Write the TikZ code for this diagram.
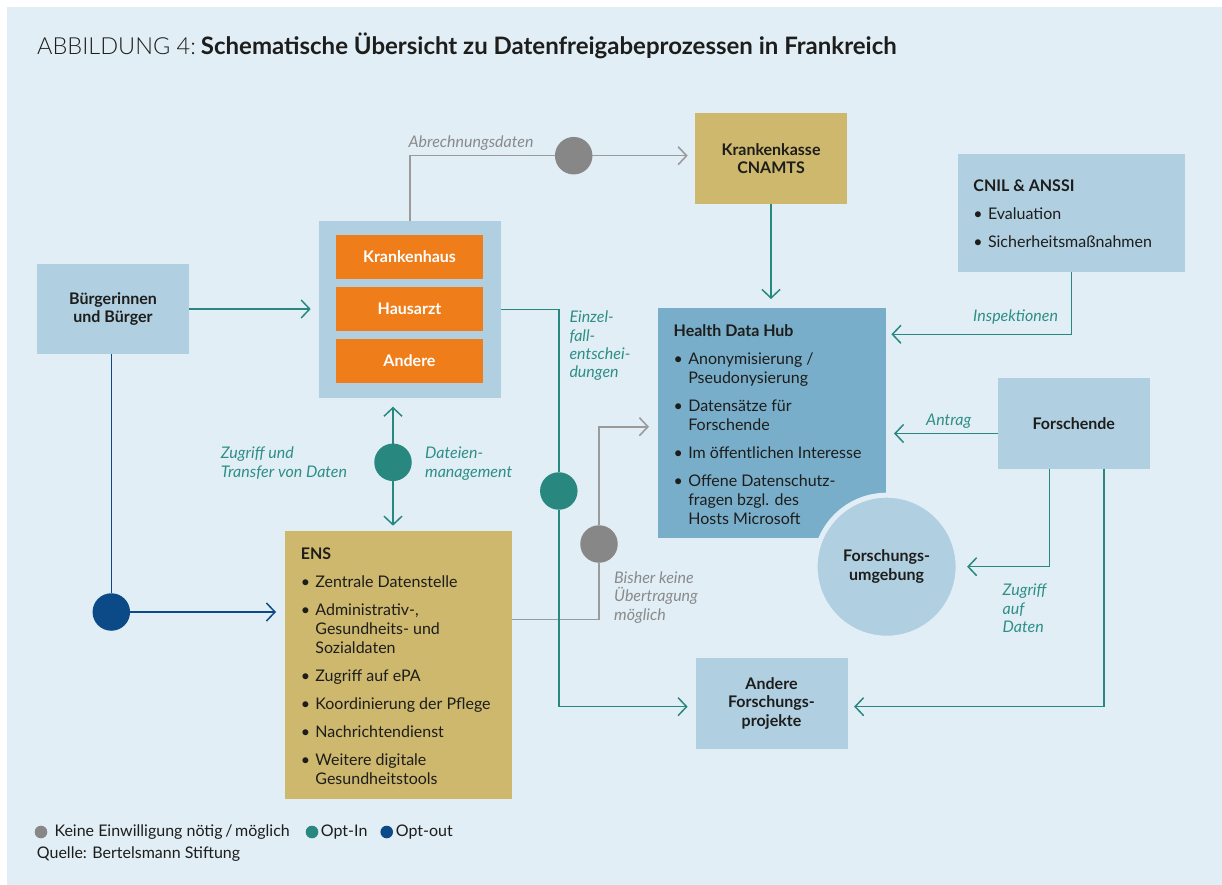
\documentclass[tikz,border=0pt]{standalone}
\usepackage{fontspec}
\setmainfont{Lato}
\IfFontExistsTF{Lato Light}{\newfontfamily\lightfont{Lato Light}}{\newfontfamily\lightfont{Lato}}
\usetikzlibrary{arrows.meta}
\definecolor{bgc}{HTML}{E1EEF6}
\definecolor{lboxc}{HTML}{B0CFE1}
\definecolor{hdhc}{HTML}{79AECA}
\definecolor{tanc}{HTML}{CDB86D}
\definecolor{orngc}{HTML}{EF7D1A}
\definecolor{tealc}{HTML}{28877F}
\definecolor{teallc}{HTML}{2E8E86}
\definecolor{graydc}{HTML}{878787}
\definecolor{graylc}{HTML}{9B9B9B}
\definecolor{graytc}{HTML}{8A8A8A}
\definecolor{navyc}{HTML}{0B4A87}
\definecolor{txtc}{HTML}{1D1D1B}
\newcommand\mybul{\makebox[14.6pt][l]{•}}
\newcommand\mycont{\hspace*{14.6pt}}
\tikzset{
  basetxt/.style={inner sep=0pt, outer sep=0pt, text=txtc, font=\fontsize{16}{18.5}\selectfont\bfseries, align=center},
  lbox/.style={basetxt, fill=lboxc, anchor=north west},
  tbox/.style={basetxt, fill=tanc, anchor=north west},
  hbox/.style={basetxt, fill=hdhc, anchor=north west},
  obox/.style={basetxt, fill=orngc, text=white, minimum width=147pt, minimum height=44pt},
  listtext/.style={anchor=north west, inner sep=0pt, align=left, text=txtc, font=\fontsize{16}{19}\selectfont},
  lbl/.style={anchor=north west, inner sep=0pt, align=left, text=teallc, font=\fontsize{16}{18.5}\selectfont\itshape},
  glbl/.style={lbl, text=graytc},
  dot/.style={circle, minimum size=37.5pt, inner sep=0pt, outer sep=0pt},
  ldot/.style={circle, minimum size=12.6pt, inner sep=0pt, outer sep=0pt},
  legtxt/.style={anchor=base west, inner sep=0pt, text=txtc, font=\fontsize{16}{18}\selectfont},
  tl/.style={draw=tealc, line width=1.5pt},
  gl/.style={draw=graylc, line width=1.6pt},
  nl/.style={draw=navyc, line width=1.5pt},
  arr/.style={-{Straight Barb[length=8.5pt,width=18pt]}},
  rarr/.style={{Straight Barb[length=8.5pt,width=18pt]}-},
}
\begin{document}
\begin{tikzpicture}[x=1pt,y=-1pt]
\path[use as bounding box, fill=white] (0,0) rectangle (1222,885);
\fill[bgc] (7,7) rectangle (1222,885);

% title
\node[anchor=base west, inner sep=0pt, text=txtc, font=\fontsize{23.5}{27}\selectfont] (title) at (37,54.5)
  {{\lightfont ABBILDUNG 4:}\hspace{5pt}{\fontsize{24}{27}\selectfont\bfseries Schematische Übersicht zu Datenfreigabeprozessen in Frankreich}};

% boxes
\node[lbox, minimum width=152pt, minimum height=90pt] (buerger) at (37,264) {Bürgerinnen\\und Bürger};
\node[lbox, minimum width=182pt, minimum height=176.5pt] (cont) at (319,221) {};
\node[obox] (kh) at (409.5,257) {Krankenhaus};
\node[obox] (ha) at (409.5,309) {Hausarzt};
\node[obox] (an) at (409.5,361) {Andere};
\node[tbox, minimum width=152pt, minimum height=91pt] (kk) at (695,113) {Krankenkasse\\CNAMTS};
\node[lbox, minimum width=227pt, minimum height=118pt] (cnil) at (958,154) {};
\node[hbox, minimum width=228pt, minimum height=230pt] (hdh) at (658,308) {};
\node[lbox, minimum width=152.5pt, minimum height=90.4pt] (fo) at (997.5,378.3) {Forschende};
\node[basetxt, circle, fill=lboxc, draw=bgc, line width=5pt, minimum size=143pt] (fu) at (886.6,566.7) {Forschungs-\\umgebung};
\node[tbox, minimum width=227pt, minimum height=267.7pt] (ens) at (285,531) {};
\node[lbox, minimum width=152pt, minimum height=90.7pt] (afp) at (695.5,658) {Andere\\Forschungs-\\projekte};

% box texts
\node[listtext] (enst) at (300.6,547) {\rule{0pt}{12pt}\textbf{ENS}\\[9pt]
  \mybul Zentrale Datenstelle\\[9pt]
  \mybul Administrativ-,\\ \mycont Gesundheits- und\\ \mycont Sozialdaten\\[9pt]
  \mybul Zugriff auf ePA\\[9pt]
  \mybul Koordinierung der Pflege\\[9pt]
  \mybul Nachrichtendienst\\[9pt]
  \mybul Weitere digitale\\ \mycont Gesundheitstools};
\node[listtext] (hdht) at (673.5,324) {\rule{0pt}{12pt}\textbf{Health Data Hub}\\[9pt]
  \mybul Anonymisierung /\\ \mycont Pseudonysierung\\[9pt]
  \mybul Datensätze für\\ \mycont Forschende\\[9pt]
  \mybul Im öffentlichen Interesse\\[9pt]
  \mybul Offene Datenschutz-\\ \mycont fragen bzgl. des\\ \mycont Hosts Microsoft};
\node[listtext] (cnilt) at (973.2,179) {\rule{0pt}{12pt}\textbf{CNIL \& ANSSI}\\[9pt]
  \mybul Evaluation\\[9pt]
  \mybul Sicherheitsmaßnahmen};

% dots
\node[dot, fill=graydc] (gd1) at (573.7,155.7) {};
\node[dot, fill=tealc] (td1) at (393,462.3) {};
\node[dot, fill=tealc] (td2) at (558.8,491) {};
\node[dot, fill=graydc] (gd2) at (599,544) {};
\node[dot, fill=navyc] (nd) at (111.3,612) {};

% connectors
\draw[gl] (cont.north) |- (gd1.west);
\draw[gl, arr, shorten >=7.3pt] (gd1.east) -- (gd1.east -| kk.west);
\draw[tl, arr, shorten >=9pt] (kk.south) -- (kk.south |- hdh.north);
\draw[tl, arr, shorten >=5.4pt] (cnil.south) |- ([yshift=88.7pt]hdh.east);
\draw[tl, arr, shorten >=8pt] ([yshift=-10pt]fo.west) -- ([yshift=-10pt]fo.west -| hdh.east);
\draw[tl, arr, shorten >=9pt] ([xshift=-24.5pt]fo.south) |- (fu.east);
\draw[tl, arr, shorten >=6.6pt] ([xshift=30.25pt]fo.south) |- ([yshift=-3.3pt]afp.east);
\draw[tl, arr, shorten >=8.3pt] (buerger.east) -- (buerger.east -| cont.west);
\draw[nl] (buerger.south -| nd) -- (nd.north);
\draw[nl, arr, shorten >=9pt] (nd.east) -- (nd.east -| ens.west);
\draw[gl] ([yshift=45.5pt]ens.east) -| (gd2.south);
\draw[gl, arr, shorten >=9pt] (gd2.north) |- ([yshift=-3.7pt]hdh.west);
\draw[tl] (cont.east) -| (td2.north);
\draw[tl, arr, shorten >=7.9pt] (td2.south) |- ([yshift=-3.3pt]afp.west);
\draw[tl, rarr, shorten <=9.2pt] (td1.north |- cont.south) -- (td1.north);
\draw[tl, arr, shorten >=5.3pt] (td1.south) -- (td1.south |- ens.north);

% labels
\node[glbl] (labr) at (408.3,135.3) {\rule{0pt}{12pt}Abrechnungsdaten};
\node[lbl, font=\fontsize{16}{18.3}\selectfont\itshape] (leinz) at (569.3,310.7) {\rule{0pt}{12pt}Einzel-\\fall-\\entschei-\\dungen};
\node[lbl, font=\fontsize{16}{19}\selectfont\itshape] (lzug) at (220.7,446.3) {\rule{0pt}{12pt}Zugriff und\\Transfer von Daten};
\node[lbl, font=\fontsize{16}{19}\selectfont\itshape] (ldat) at (425,446.3) {\rule{0pt}{12pt}Dateien-\\management};
\node[glbl, font=\fontsize{16}{18.3}\selectfont\itshape] (lbish) at (614,571.3) {\rule{0pt}{12pt}Bisher keine\\Übertragung\\möglich};
\node[lbl] (linsp) at (973,309.3) {\rule{0pt}{12pt}Inspektionen};
\node[lbl] (lantr) at (926,413) {\rule{0pt}{12pt}Antrag};
\node[lbl, font=\fontsize{16}{18.3}\selectfont\itshape] (lzad) at (1002.5,583.7) {\rule{0pt}{12pt}Zugriff\\auf\\Daten};

% legend
\node[ldot, fill=graydc] (lg1) at (41,832) {};
\node[legtxt] (lt1) at (54.3,836) {Keine Einwilligung nötig\,/\,möglich};
\node[ldot, fill=tealc] (lg2) at (312,832) {};
\node[legtxt] (lt2) at (320.7,836) {Opt-In};
\node[ldot, fill=navyc] (lg3) at (386.7,832) {};
\node[legtxt] (lt3) at (395.7,836) {Opt-out};
\node[legtxt] (src) at (36.7,858.3) {Quelle: Bertelsmann Stiftung};
\end{tikzpicture}
\end{document}
